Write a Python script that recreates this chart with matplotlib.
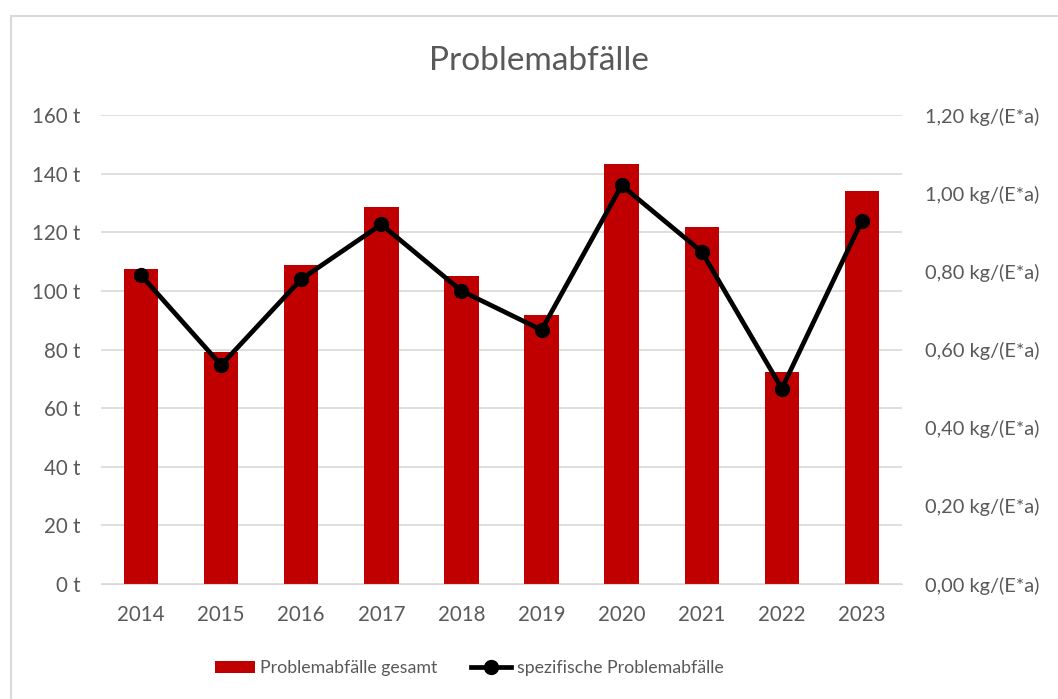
import matplotlib
matplotlib.use('Agg')
import matplotlib.pyplot as plt
from matplotlib.patches import Rectangle
from matplotlib.ticker import FuncFormatter

# Daten
jahre = ['2014', '2015', '2016', '2017', '2018', '2019', '2020', '2021', '2022', '2023']
gesamt = [107.4, 79.0, 108.7, 128.6, 105.1, 91.6, 143.2, 121.8, 72.4, 134.1]
spezifisch = [0.79, 0.56, 0.78, 0.92, 0.75, 0.65, 1.02, 0.85, 0.50, 0.93]

grau = '#595959'
plt.rcParams['font.family'] = ['Lato', 'DejaVu Sans']

fig = plt.figure(figsize=(10.58, 6.99), dpi=100)
fig.patches.append(Rectangle((11 / 1058, -0.05), 1.2, 1 - 16 / 699 + 0.05,
                             transform=fig.transFigure, fill=False,
                             edgecolor='#D9D9D9', linewidth=1.5))

ax = fig.add_axes([101 / 1058, 115 / 699, 801 / 1058, 469 / 699])
x = range(len(jahre))
bars = ax.bar(x, gesamt, width=0.43, color='#C00000', zorder=2,
              label='Problemabfälle gesamt')
ax.set_xlim(-0.5, len(jahre) - 0.5)
ax.set_ylim(0, 160)
ax.set_yticks(range(0, 161, 20))
ax.yaxis.set_major_formatter(FuncFormatter(lambda v, p: f'{int(v)} t'))
ax.set_xticks(list(x))
ax.set_xticklabels(jahre)
ax.grid(axis='y', color='#D9D9D9', linewidth=1.2, zorder=0)
for s in ax.spines.values():
    s.set_visible(False)
ax.spines['bottom'].set_visible(True)
ax.spines['bottom'].set_color('#D9D9D9')
ax.tick_params(length=0, colors=grau, labelsize=14.8)
ax.tick_params(axis='x', pad=15)
ax.tick_params(axis='y', pad=15)

ax2 = ax.twinx()
line, = ax2.plot(x, spezifisch, color='black', linewidth=3.4, marker='o',
                 markersize=10, zorder=3, label='spezifische Problemabfälle')
ax2.set_ylim(0, 1.2)
ax2.set_yticks([i * 0.2 for i in range(7)])
ax2.yaxis.set_major_formatter(
    FuncFormatter(lambda v, p: f'{v:.2f}'.replace('.', ',') + ' kg/(E*a)'))
for s in ax2.spines.values():
    s.set_visible(False)
ax2.tick_params(length=0, colors=grau, labelsize=14.4, pad=16.5)

fig.text(539 / 1058, 1 - 61 / 699, 'Problemabfälle', ha='center', va='center',
         fontsize=24, color=grau)

fig.legend([bars, line], ['Problemabfälle gesamt', 'spezifische Problemabfälle'],
           loc='center left', bbox_to_anchor=(215 / 1058, 1 - 668 / 699), ncol=2,
           frameon=False, fontsize=12.8, labelcolor=grau, handlelength=2.25,
           handletextpad=0.3, columnspacing=1.9, borderpad=0, borderaxespad=0)

fig.savefig('out.png', dpi=100)
